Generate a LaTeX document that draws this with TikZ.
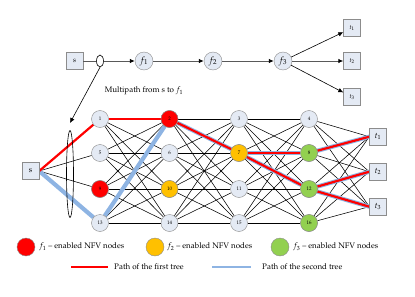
\documentclass[tikz,border=0pt]{standalone}
\usepackage[T1]{fontenc}
\usepackage{mathpazo}
\usetikzlibrary{arrows.meta,shapes.geometric,backgrounds}
\definecolor{nodefill}{HTML}{E4EAF4}
\definecolor{nodedraw}{HTML}{8C8C8C}
\definecolor{fone}{HTML}{FF0000}
\definecolor{ftwo}{HTML}{FFC000}
\definecolor{fthree}{HTML}{92D050}
\definecolor{bluepath}{HTML}{8EB4E3}
\begin{document}
\begin{tikzpicture}[x=1pt,y=-1pt,
  gnode/.style={circle,draw=nodedraw,fill=nodefill,minimum size=17pt,inner sep=0pt,font=\fontsize{5}{6}\selectfont},
  fnode/.style={circle,draw=nodedraw,fill=nodefill,minimum size=18pt,inner sep=0pt,font=\fontsize{9}{10}\selectfont},
  box/.style={rectangle,draw=nodedraw,fill=nodefill,minimum size=17pt,inner sep=0pt,font=\fontsize{8}{9}\selectfont},
  sbox/.style={box,font=\fontsize{6}{7}\selectfont},
  oval/.style={ellipse,draw=black,inner sep=0pt,line width=0.6pt},
  link/.style={black,line width=0.55pt},
  grayarr/.style={draw=gray!70!black,line width=0.9pt,-{Latex[length=5pt,width=4.5pt,color=black]}},
  blackarr/.style={draw=black,line width=0.6pt,-{Latex[length=5pt,width=4.5pt]}},
  redpath/.style={fone,line width=2.2pt},
  bluepathst/.style={bluepath,line width=4.2pt},
  legtext/.style={anchor=west,font=\fontsize{8}{9}\selectfont,inner sep=0pt},
  leg/.style={circle,minimum size=18pt,inner sep=0pt,draw=nodedraw},
]
\useasboundingbox (0,0) rectangle (415,297);

% ---- top chain ----
\node[sbox,font=\fontsize{7}{8}\selectfont] (s0) at (74.5,61) {s};
\node[oval,minimum width=7pt,minimum height=12pt] (e0) at (100,61) {};
\node[fnode] (f1) at (144,61) {$f_1$};
\node[fnode] (f2) at (213,61) {$f_2$};
\node[fnode] (f3) at (283,61) {$f_3$};
\node[sbox] (ta) at (352,28) {$t_1$};
\node[sbox] (tb) at (352,61) {$t_2$};
\node[sbox] (tc) at (352,97) {$t_3$};
\draw[draw=gray!70!black,line width=0.9pt] (s0) -- (e0);
\draw[grayarr] (e0) -- (f1);
\draw[grayarr] (f1) -- (f2);
\draw[grayarr] (f2) -- (f3);
\draw[blackarr] (f3) -- (ta);
\draw[grayarr] (f3) -- (tb);
\draw[blackarr] (f3) -- (tc);
\node[font=\fontsize{8}{9}\selectfont] (mp) at (144,91) {Multipath from s to $f_1$};
\coordinate (etip) at (70,123);
\draw[blackarr] (e0.south) -- (etip);

% ---- network ----
\node[box] (S) at (30.5,171) {s};
\node[oval,minimum width=7pt,minimum height=87pt] (E) at (70,174) {};
\foreach \r/\y in {0/119,1/153,2/189,3/223}{
  \foreach \c/\x in {1/100,2/169.5,3/239,4/309}{
    \pgfmathtruncatemacro{\n}{\r*4+\c}
    \node[gnode] (n\n) at (\x,\y) {\n};
  }
}
\node[gnode,fill=fone] at (n2) {2};
\node[gnode,fill=fone] at (n9) {9};
\node[gnode,fill=ftwo] at (n7) {7};
\node[gnode,fill=ftwo] at (n10) {10};
\node[gnode,fill=fthree] at (n8) {8};
\node[gnode,fill=fthree] at (n12) {12};
\node[gnode,fill=fthree] at (n16) {16};
\node[box] (T1) at (378,136.7) {$t_1$};
\node[box] (T2) at (378,171.7) {$t_2$};
\node[box] (T3) at (378,206.7) {$t_3$};

\begin{scope}[on background layer]
  \foreach \a in {1,5,9,13}{\draw[link] (S.east) -- (n\a);}
  \foreach \c/\d in {1/2,2/3,3/4}{
    \foreach \i in {0,1,2,3}{
      \foreach \j in {0,1,2,3}{
        \pgfmathtruncatemacro{\p}{\i*4+\c}
        \pgfmathtruncatemacro{\q}{\j*4+\d}
        \draw[link] (n\p) -- (n\q);
      }
    }
  }
  \foreach \a in {4,8,12,16}{
    \foreach \t in {T1,T2,T3}{\draw[link] (n\a) -- (\t.west);}
  }
  % second tree
  \draw[bluepathst] (S.east) -- (n13);
  \draw[bluepathst] (n13) -- (n2);
  \draw[bluepathst] (n2) -- (n7);
  \draw[bluepathst] (n7) -- (n8);
  \draw[bluepathst] (n7) -- (n12);
  \draw[bluepathst] (n8) -- (T1.west);
  \draw[bluepathst] (n12) -- (T2.west);
  \draw[bluepathst] (n12) -- (T3.west);
  % first tree
  \draw[redpath] (S.east) -- (n1);
  \draw[redpath] (n1) -- (n2);
  \draw[redpath] (n2) -- (n7);
  \draw[redpath] (n7) -- (n8);
  \draw[redpath] (n7) -- (n12);
  \draw[redpath] (n8) -- (T1.west);
  \draw[redpath] (n12) -- (T2.west);
  \draw[redpath] (n12) -- (T3.west);
\end{scope}

% ---- legend ----
\node[leg,fill=fone] (l1) at (26,247) {};
\node[legtext] (lt1) at (39,247) {$f_1$ -- enabled NFV nodes};
\node[leg,fill=ftwo] (l2) at (155,247) {};
\node[legtext] (lt2) at (167,247) {$f_2$ -- enabled NFV nodes};
\node[leg,fill=fthree] (l3) at (280,247) {};
\node[legtext] (lt3) at (293,247) {$f_3$ -- enabled NFV nodes};
\coordinate (ra) at (71,267);
\coordinate (rb) at (108,267);
\draw[redpath] (ra) -- (rb);
\node[legtext] (lt4) at (114,267) {Path of the first tree};
\coordinate (ba) at (212,267);
\coordinate (bb) at (251,267);
\draw[bluepath,line width=2.6pt] (ba) -- (bb);
\node[legtext] (lt5) at (262,267) {Path of the second tree};
\end{tikzpicture}
\end{document}
